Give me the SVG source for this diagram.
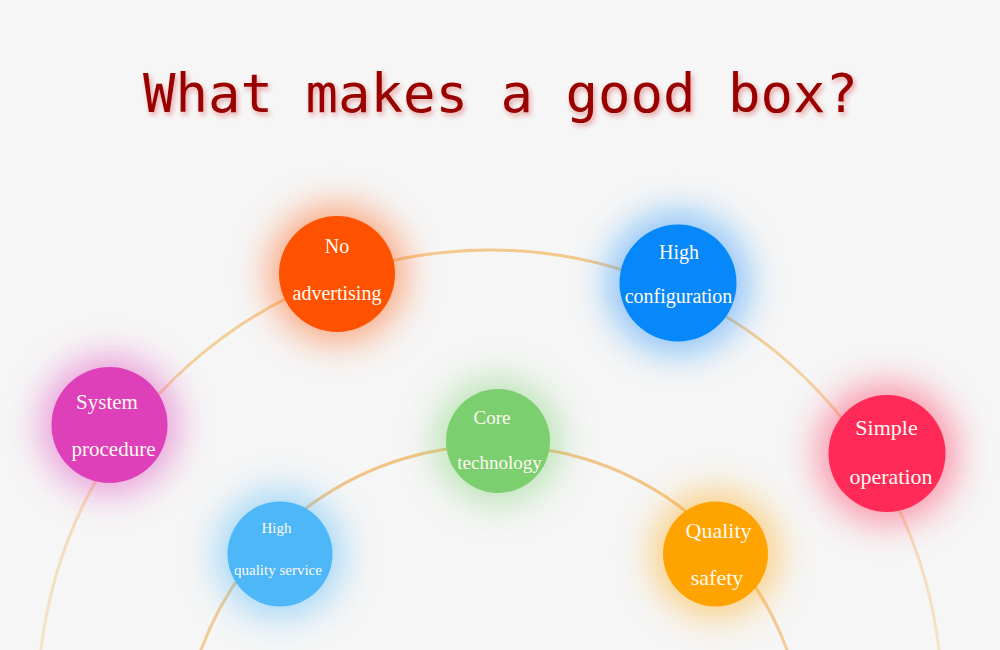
<svg xmlns="http://www.w3.org/2000/svg" width="1000" height="650" viewBox="0 0 1000 650">
  <defs>
    <style>
      .title { font-family: "DejaVu Sans Mono", "Liberation Mono", monospace; font-size: 54px; fill: #990000; }
      .lbl { font-family: "Liberation Serif", "Times New Roman", serif; fill: #FFF9F2; text-anchor: middle; }
      .arc { fill: none; stroke-width: 3; stroke-linecap: round; }
      .glow { filter: url(#blur); opacity: 0.5; }
    </style>
    <filter id="blur" x="-100%" y="-100%" width="300%" height="300%">
      <feGaussianBlur stdDeviation="18"/>
    </filter>
    <filter id="tshadow" x="-10%" y="-30%" width="120%" height="160%">
      <feDropShadow dx="2" dy="3" stdDeviation="2.5" flood-color="#cc2222" flood-opacity="0.4"/>
    </filter>
    <filter id="soft" x="-10%" y="-10%" width="120%" height="120%">
      <feGaussianBlur stdDeviation="0.6"/>
    </filter>
    <linearGradient id="outerGrad" gradientUnits="userSpaceOnUse" x1="0" y1="250" x2="0" y2="650">
      <stop offset="0" stop-color="#F3C07A" stop-opacity="0.85"/>
      <stop offset="1" stop-color="#F3C07A" stop-opacity="0.35"/>
    </linearGradient>
    <linearGradient id="innerGrad" gradientUnits="userSpaceOnUse" x1="0" y1="445" x2="0" y2="650">
      <stop offset="0" stop-color="#F0BE78" stop-opacity="0.9"/>
      <stop offset="1" stop-color="#F0BE78" stop-opacity="0.75"/>
    </linearGradient>
  </defs>

  <rect width="1000" height="650" fill="#F6F6F6"/>

  <text class="title" x="143" y="112" textLength="715" lengthAdjust="spacing" filter="url(#tshadow)">What makes a good box?</text>

  <g id="connectors">
    <path class="arc" stroke="url(#outerGrad)" filter="url(#soft)" d="M 41 650 A 452 452 0 0 1 939 650"/>
    <path class="arc" stroke="url(#innerGrad)" filter="url(#soft)" d="M 201 650 A 312 312 0 0 1 787 650"/>
  </g>

  <g id="node-no-advertising">
    <circle class="glow" cx="337" cy="274" r="68" fill="#FF5200"/>
    <circle cx="337" cy="274" r="58" fill="#FF5200"/>
    <text class="lbl" x="337" y="253" font-size="20">No</text>
    <text class="lbl" x="337" y="300" font-size="20">advertising</text>
  </g>

  <g id="node-high-configuration">
    <circle class="glow" cx="678" cy="283" r="69" fill="#0788FA"/>
    <circle cx="678" cy="283" r="58.5" fill="#0788FA"/>
    <text class="lbl" x="679" y="259" font-size="20">High</text>
    <text class="lbl" x="678.5" y="303" font-size="20">configuration</text>
  </g>

  <g id="node-system-procedure">
    <circle class="glow" cx="109.5" cy="425" r="68" fill="#DD40B8"/>
    <circle cx="109.5" cy="425" r="58" fill="#DD40B8"/>
    <text class="lbl" x="107" y="409" font-size="21">System</text>
    <text class="lbl" x="113.5" y="456" font-size="21">procedure</text>
  </g>

  <g id="node-core-technology">
    <circle class="glow" cx="498" cy="441" r="62" fill="#7CCF6F"/>
    <circle cx="498" cy="441" r="52" fill="#7CCF6F"/>
    <text class="lbl" x="492" y="424" font-size="19">Core</text>
    <text class="lbl" x="499.5" y="469" font-size="19">technology</text>
  </g>

  <g id="node-simple-operation">
    <circle class="glow" cx="887" cy="453.5" r="69" fill="#FF2A57"/>
    <circle cx="887" cy="453.5" r="58.5" fill="#FF2A57"/>
    <text class="lbl" x="886.5" y="435" font-size="22">Simple</text>
    <text class="lbl" x="891" y="484" font-size="22">operation</text>
  </g>

  <g id="node-high-quality-service">
    <circle class="glow" cx="280" cy="554" r="63" fill="#4DB7F8"/>
    <circle cx="280" cy="554" r="52.5" fill="#4DB7F8"/>
    <text class="lbl" x="276.5" y="533" font-size="15">High</text>
    <text class="lbl" x="278" y="575" font-size="15">quality service</text>
  </g>

  <g id="node-quality-safety">
    <circle class="glow" cx="715.5" cy="554" r="62" fill="#FFA300"/>
    <circle cx="715.5" cy="554" r="52.5" fill="#FFA300"/>
    <text class="lbl" x="718.5" y="538" font-size="22">Quality</text>
    <text class="lbl" x="717" y="585" font-size="22">safety</text>
  </g>
</svg>
